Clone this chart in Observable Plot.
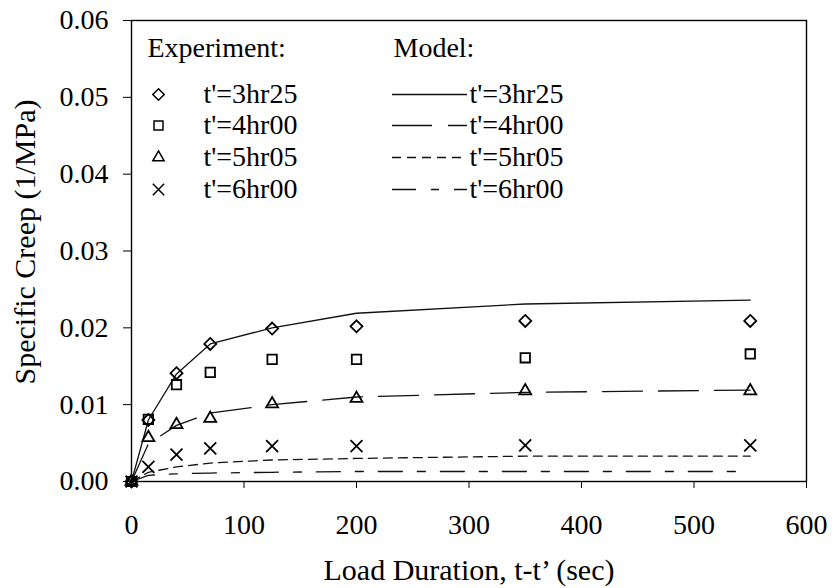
<!DOCTYPE html>
<html>
<head>
<meta charset="utf-8">
<script src="https://cdn.jsdelivr.net/npm/d3@7"></script>
<script src="https://cdn.jsdelivr.net/npm/@observablehq/plot@0.6"></script>
<style>
  html, body { margin: 0; padding: 0; background: #fff; }
  #chart svg, #chart svg text { font-family: "Liberation Serif", "Times New Roman", serif !important; }
</style>
</head>
<body>
<div id="chart"></div>
<script>
// ---- data ----
const time = [0, 15, 40, 70, 125, 200, 350, 550];
const seriesNames = ["t'=3hr25", "t'=4hr00", "t'=5hr05", "t'=6hr00"];
const exp3hr25 = [0, 0.0080, 0.0141, 0.0179, 0.0199, 0.0202, 0.0209, 0.0209];
const exp4hr00 = [0, 0.0081, 0.0126, 0.0142, 0.0159, 0.0159, 0.0161, 0.0166];
const exp5hr05 = [0, 0.0057, 0.0074, 0.0082, 0.0101, 0.0108, 0.0118, 0.0118];
const exp6hr00 = [0, 0.0019, 0.0035, 0.0043, 0.0046, 0.0046, 0.0047, 0.0047];
const model3hr25 = [0, 0.0080, 0.0140, 0.0179, 0.0200, 0.0219, 0.0231, 0.0236];
const model4hr00 = [0, 0.0049, 0.0073, 0.0089, 0.0100, 0.0110, 0.0116, 0.0119];
const model5hr05 = [0, 0.0012, 0.0019, 0.0024, 0.0028, 0.0030, 0.0033, 0.0033];
const model6hr00 = [0, 0.0008, 0.0010, 0.0011, 0.0012, 0.0013, 0.0013, 0.0013];
const xTicks = [0, 100, 200, 300, 400, 500, 600];
const yTicks = [0, 0.01, 0.02, 0.03, 0.04, 0.05, 0.06];
const xLabel = "Load Duration, t-t\u2019 (sec)";
const yLabel = "Specific Creep (1/MPa)";

// ---- styles ----
const expData = [exp3hr25, exp4hr00, exp5hr05, exp6hr00];
const modelData = [model3hr25, model4hr00, model5hr05, model6hr00];
const symbols = ["diamond2", "square2", "triangle2", "times"];
const symbolR = [5.4, 6.0, 5.7, 5.5];
const dashes = [null, "40,16", "9,6", "24,15,8,15"];

const W = 834, H = 588, mL = 131, mR = 28, mT = 20, mB = 107;
const xDomain = [0, 600], yDomain = [0, 0.06];
// pixel -> data helpers for legend layout
const px2x = p => xDomain[0] + (p - mL) / (W - mL - mR) * (xDomain[1] - xDomain[0]);
const px2y = p => yDomain[0] + (H - mB - p) / (H - mT - mB) * (yDomain[1] - yDomain[0]);

const table = (vals, name) => time.map((t, i) => ({t, v: vals[i], name}));

const marks = [];
// model lines
modelData.forEach((vals, k) => {
  marks.push(Plot.line(table(vals, seriesNames[k]), {
    x: "t", y: "v", stroke: "#111", strokeWidth: 1.3,
    strokeDasharray: dashes[k] || undefined
  }));
});
// experiment points
expData.forEach((vals, k) => {
  marks.push(Plot.dot(table(vals, seriesNames[k]), {
    x: "t", y: "v", symbol: () => symbols[k], r: symbolR[k],
    stroke: "#000", strokeWidth: 1.8, fill: "none"
  }));
});

// legend
const fs = 28;
const rowsPx = [94, 125, 157, 189];
const headerPx = 48;
marks.push(Plot.text(["Experiment:"], {x: () => px2x(147), y: () => px2y(headerPx), text: d => d, textAnchor: "start", fontSize: fs}));
marks.push(Plot.text(["Model:"], {x: () => px2x(393), y: () => px2y(headerPx), text: d => d, textAnchor: "start", fontSize: fs}));
seriesNames.forEach((name, k) => {
  const yv = px2y(rowsPx[k]);
  marks.push(Plot.dot([name], {x: () => px2x(158), y: () => yv, symbol: () => symbols[k], r: symbolR[k] * 0.95, stroke: "#000", strokeWidth: 1.5, fill: "none"}));
  marks.push(Plot.text([name], {x: () => px2x(203), y: () => yv, text: d => d, textAnchor: "start", fontSize: fs}));
  marks.push(Plot.ruleY([yv], {y: d => d, x1: () => px2x(392), x2: () => px2x(467), stroke: "#111", strokeWidth: 1.3, strokeDasharray: dashes[k] || undefined}));
  marks.push(Plot.text([name], {x: () => px2x(469), y: () => yv, text: d => d, textAnchor: "start", fontSize: fs}));
});

// axis titles
marks.push(Plot.text([xLabel], {frameAnchor: "bottom", dy: 89, text: d => d, fontSize: 30, textAnchor: "middle", lineAnchor: "middle"}));
marks.push(Plot.text([yLabel], {frameAnchor: "left", dx: -106, dy: -9, rotate: -90, text: d => d, fontSize: 30, textAnchor: "middle", lineAnchor: "middle"}));

marks.push(Plot.frame({stroke: "#000", strokeWidth: 1.4}));

const chart = Plot.plot({
  width: W, height: H,
  marginLeft: mL, marginRight: mR, marginTop: mT, marginBottom: mB,
  style: {fontSize: fs + "px", color: "#000", background: "#fff"},
  x: {domain: xDomain, ticks: xTicks, tickSize: 7, tickPadding: 26, label: null, tickFormat: d3.format("d")},
  y: {domain: yDomain, ticks: yTicks, tickSize: 8, tickPadding: 15, label: null, tickFormat: d3.format(".2f")},
  marks
});
document.getElementById("chart").appendChild(chart);
</script>
</body>
</html>
